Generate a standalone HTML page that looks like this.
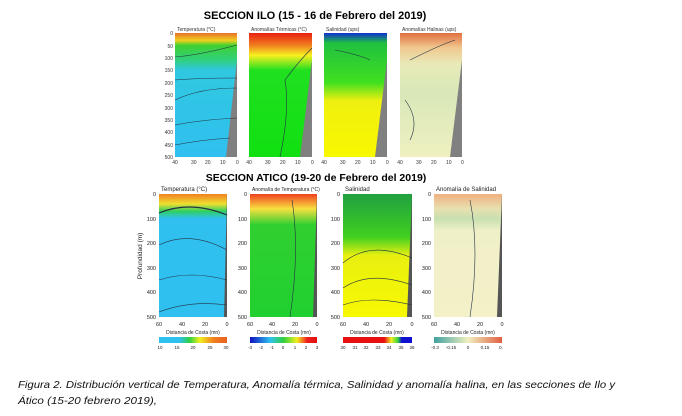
<!DOCTYPE html>
<html><head><meta charset="utf-8"><style>
html,body{margin:0;padding:0;background:#fff}
svg{display:block;font-family:"Liberation Sans",sans-serif}
</style></head><body>
<svg width="682" height="416" viewBox="0 0 682 416" xmlns="http://www.w3.org/2000/svg">
<defs>
<linearGradient id="t1" x1="0" y1="0" x2="0" y2="1">
<stop offset="0" stop-color="#e8702a"/><stop offset="0.06" stop-color="#f0d020"/><stop offset="0.1" stop-color="#40d030"/><stop offset="0.22" stop-color="#30d080"/><stop offset="0.3" stop-color="#30c8e0"/><stop offset="1" stop-color="#30c0f0"/></linearGradient>
<linearGradient id="a1" x1="0" y1="0" x2="0" y2="1">
<stop offset="0" stop-color="#e82010"/><stop offset="0.1" stop-color="#f08020"/><stop offset="0.18" stop-color="#f8f020"/><stop offset="0.3" stop-color="#20e020"/><stop offset="1" stop-color="#10e010"/></linearGradient>
<linearGradient id="s1" x1="0" y1="0" x2="0" y2="1">
<stop offset="0" stop-color="#1030d0"/><stop offset="0.08" stop-color="#20c040"/><stop offset="0.4" stop-color="#40e020"/><stop offset="0.55" stop-color="#f0f010"/><stop offset="1" stop-color="#f8f800"/></linearGradient>
<linearGradient id="h1" x1="0" y1="0" x2="0" y2="1">
<stop offset="0" stop-color="#e07040"/><stop offset="0.12" stop-color="#f0c890"/><stop offset="0.25" stop-color="#e8eab8"/><stop offset="0.5" stop-color="#d8e8b8"/><stop offset="1" stop-color="#f0f0c0"/></linearGradient>
<linearGradient id="t2" x1="0" y1="0" x2="0" y2="1">
<stop offset="0" stop-color="#f08020"/><stop offset="0.08" stop-color="#f0e030"/><stop offset="0.14" stop-color="#30d060"/><stop offset="0.2" stop-color="#30c0f0"/><stop offset="1" stop-color="#30c0f0"/></linearGradient>
<linearGradient id="a2" x1="0" y1="0" x2="0" y2="1">
<stop offset="0" stop-color="#f04020"/><stop offset="0.12" stop-color="#f8e040"/><stop offset="0.25" stop-color="#30d030"/><stop offset="1" stop-color="#20d030"/></linearGradient>
<linearGradient id="s2" x1="0" y1="0" x2="0" y2="1">
<stop offset="0" stop-color="#20a040"/><stop offset="0.35" stop-color="#40d020"/><stop offset="0.5" stop-color="#e8f010"/><stop offset="1" stop-color="#f8f800"/></linearGradient>
<linearGradient id="h2" x1="0" y1="0" x2="0" y2="1">
<stop offset="0" stop-color="#f0b080"/><stop offset="0.12" stop-color="#e8e0b0"/><stop offset="0.2" stop-color="#c8e0b0"/><stop offset="0.3" stop-color="#f0f0c8"/><stop offset="1" stop-color="#f4f0c8"/></linearGradient>
<linearGradient id="cb1"><stop offset="0" stop-color="#30c0f0"/><stop offset="0.3" stop-color="#30c0f0"/><stop offset="0.45" stop-color="#30d040"/><stop offset="0.6" stop-color="#f0f020"/><stop offset="0.8" stop-color="#f08020"/><stop offset="1" stop-color="#e86020"/></linearGradient>
<linearGradient id="cb2"><stop offset="0" stop-color="#1010c0"/><stop offset="0.3" stop-color="#30c0f0"/><stop offset="0.5" stop-color="#30d040"/><stop offset="0.7" stop-color="#f0f020"/><stop offset="0.85" stop-color="#f02020"/><stop offset="1" stop-color="#e01010"/></linearGradient>
<linearGradient id="cb3"><stop offset="0" stop-color="#e81010"/><stop offset="0.6" stop-color="#e81010"/><stop offset="0.7" stop-color="#f0f020"/><stop offset="0.8" stop-color="#30d040"/><stop offset="0.85" stop-color="#1010d0"/><stop offset="1" stop-color="#1010d0"/></linearGradient>
<linearGradient id="cb4"><stop offset="0" stop-color="#40a0a0"/><stop offset="0.5" stop-color="#f0f0c0"/><stop offset="1" stop-color="#e06040"/></linearGradient>
</defs>
<rect width="682" height="416" fill="#fff"/>
<text x="315" y="19" font-size="11" font-weight="bold" text-anchor="middle">SECCION ILO (15 - 16 de Febrero del 2019)</text>
<g font-size="5" fill="#333">
<rect x="175" y="33" width="62" height="124" fill="url(#t1)"/>
<polygon points="237,60 226,157 237,157" fill="#808080"/>
<rect x="249" y="33" width="63" height="124" fill="url(#a1)"/>
<polygon points="312,60 300,157 312,157" fill="#808080"/>
<rect x="324" y="33" width="63" height="124" fill="url(#s1)"/>
<polygon points="387,60 375,157 387,157" fill="#808080"/>
<rect x="400" y="33" width="62" height="124" fill="url(#h1)"/>
<polygon points="462,60 450,157 462,157" fill="#808080"/>
<text x="177" y="31">Temperatura (°C)</text><text x="251" y="31">Anomalías Térmicas (°C)</text>
<text x="326" y="31">Salinidad (ups)</text><text x="402" y="31">Anomalías Halinas (ups)</text>
<g fill="none" stroke="#234" stroke-width="0.6">
<path d="M175,57 Q200,55 237,45"/><path d="M175,80 Q200,78 237,78"/><path d="M175,100 Q200,88 237,88"/><path d="M175,125 Q200,120 237,118"/><path d="M175,145 Q200,140 230,138"/>
<path d="M280,157 Q290,110 285,80 Q300,60 312,48"/>
<path d="M335,50 Q360,55 370,60"/>
<path d="M410,60 Q440,45 455,40"/><path d="M405,100 Q420,120 410,140"/>
</g>
<g text-anchor="end"><text x="173" y="35">0</text><text x="173" y="48">50</text><text x="173" y="60">100</text><text x="173" y="72">150</text><text x="173" y="85">200</text><text x="173" y="97">250</text><text x="173" y="110">300</text><text x="173" y="122">350</text><text x="173" y="134">400</text><text x="173" y="147">450</text><text x="173" y="159">500</text></g>
<text x="175" y="164" text-anchor="middle">40</text><text x="191" y="164">30</text><text x="205" y="164">20</text><text x="220" y="164">10</text><text x="236" y="164">0</text>
<text x="249" y="164" text-anchor="middle">40</text><text x="265" y="164">30</text><text x="280" y="164">20</text><text x="295" y="164">10</text><text x="311" y="164">0</text>
<text x="324" y="164" text-anchor="middle">40</text><text x="340" y="164">30</text><text x="355" y="164">20</text><text x="370" y="164">10</text><text x="386" y="164">0</text>
<text x="400" y="164" text-anchor="middle">40</text><text x="416" y="164">30</text><text x="431" y="164">20</text><text x="446" y="164">10</text><text x="461" y="164">0</text>
</g>
<text x="316" y="181" font-size="10.5" font-weight="bold" text-anchor="middle">SECCION ATICO (19-20 de Febrero del 2019)</text>
<g font-size="5.5" fill="#222">
<rect x="159" y="194" width="68" height="123" fill="url(#t2)"/><polygon points="227,194 224,317 227,317" fill="#555"/>
<rect x="250" y="194" width="67" height="123" fill="url(#a2)"/><polygon points="317,194 313,317 317,317" fill="#555"/>
<rect x="343" y="194" width="69" height="123" fill="url(#s2)"/><polygon points="412,194 407,317 412,317" fill="#555"/>
<rect x="434" y="194" width="68" height="123" fill="url(#h2)"/><polygon points="502,194 497,317 502,317" fill="#555"/>
<g fill="none" stroke="#234" stroke-width="0.6">
<path d="M159,213 Q190,200 227,215" stroke-width="1.2"/><path d="M159,245 Q190,230 227,250"/><path d="M159,280 Q190,270 227,280"/><path d="M159,312 Q190,300 227,305"/>
<path d="M343,263 Q370,240 412,258"/><path d="M343,288 Q370,270 412,285"/><path d="M343,305 Q370,295 412,305"/>
<path d="M290,317 Q300,250 292,200"/><path d="M470,317 Q480,250 470,200"/>
</g>
<text x="161" y="191" font-size="6">Temperatura (°C)</text><text x="252" y="191" font-size="5">Anomalía de Temperatura (°C)</text>
<text x="345" y="191" font-size="6">Salinidad</text><text x="436" y="191" font-size="6">Anomalía de Salinidad</text>
<g text-anchor="end"><text x="156" y="196">0</text><text x="156" y="221">100</text><text x="156" y="245">200</text><text x="156" y="270">300</text><text x="156" y="294">400</text><text x="156" y="319">500</text>
<text x="247" y="196">0</text><text x="247" y="221">100</text><text x="247" y="245">200</text><text x="247" y="270">300</text><text x="247" y="294">400</text><text x="247" y="319">500</text>
<text x="340" y="196">0</text><text x="340" y="221">100</text><text x="340" y="245">200</text><text x="340" y="270">300</text><text x="340" y="294">400</text><text x="340" y="319">500</text>
<text x="431" y="196">0</text><text x="431" y="221">100</text><text x="431" y="245">200</text><text x="431" y="270">300</text><text x="431" y="294">400</text><text x="431" y="319">500</text></g>
<text transform="translate(142,256) rotate(-90)" font-size="6.5" text-anchor="middle">Profundidad (m)</text>
<g text-anchor="middle">
<text x="159" y="326">60</text><text x="182" y="326">40</text><text x="205" y="326">20</text><text x="227" y="326">0</text>
<text x="250" y="326">60</text><text x="272" y="326">40</text><text x="295" y="326">20</text><text x="317" y="326">0</text>
<text x="343" y="326">60</text><text x="366" y="326">40</text><text x="389" y="326">20</text><text x="412" y="326">0</text>
<text x="434" y="326">60</text><text x="457" y="326">40</text><text x="480" y="326">20</text><text x="502" y="326">0</text>
<text x="193" y="334" font-size="5">Distancia de Costa (mn)</text><text x="284" y="334" font-size="5">Distancia de Costa (mn)</text>
<text x="377" y="334" font-size="5">Distancia de Costa (mn)</text><text x="468" y="334" font-size="5">Distancia de Costa (mn)</text>
</g>
<rect x="159" y="337" width="68" height="6" fill="url(#cb1)"/>
<rect x="250" y="337" width="67" height="6" fill="url(#cb2)"/>
<rect x="343" y="337" width="69" height="6" fill="url(#cb3)"/>
<rect x="434" y="337" width="68" height="6" fill="url(#cb4)"/>
<g font-size="4.5" text-anchor="middle">
<text x="160" y="349">10</text><text x="177" y="349">15</text><text x="193" y="349">20</text><text x="210" y="349">25</text><text x="226" y="349">30</text>
<text x="250" y="349">-3</text><text x="261" y="349">-2</text><text x="272" y="349">-1</text><text x="283" y="349">0</text><text x="295" y="349">1</text><text x="306" y="349">2</text><text x="317" y="349">3</text>
<text x="343" y="349">30</text><text x="355" y="349">31</text><text x="366" y="349">32</text><text x="378" y="349">33</text><text x="389" y="349">34</text><text x="401" y="349">35</text><text x="412" y="349">36</text>
<text x="435" y="349">-0.3</text><text x="451" y="349">-0.15</text><text x="468" y="349">0</text><text x="485" y="349">0.15</text><text x="501" y="349">0.</text>
</g>
</g>
<g font-style="italic" font-size="10.5" fill="#111">
<text x="18" y="388" textLength="597" lengthAdjust="spacingAndGlyphs">Figura 2. Distribución vertical de Temperatura, Anomalía térmica, Salinidad y anomalía halina, en las secciones de Ilo y</text>
<text x="18" y="404" textLength="139" lengthAdjust="spacingAndGlyphs">Ático (15-20 febrero 2019),</text>
</g>
</svg>
</body></html>
